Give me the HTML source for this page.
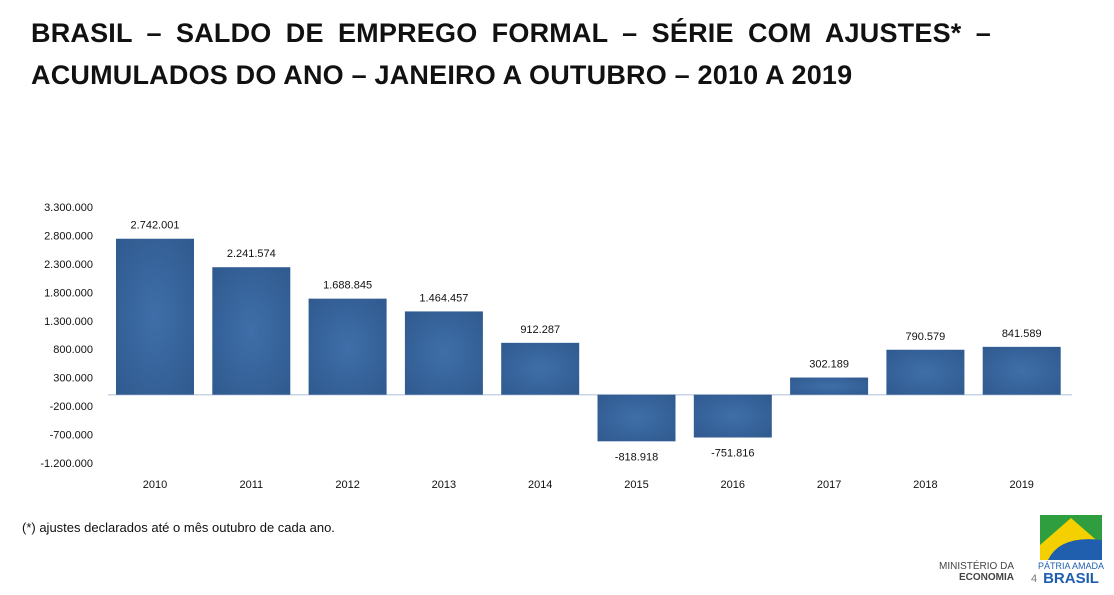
<!DOCTYPE html>
<html><head><meta charset="utf-8"><style>
body{margin:0;width:1114px;height:595px;background:#fff;font-family:"Liberation Sans",sans-serif;overflow:hidden;position:relative}
#title{position:absolute;left:31px;top:12px;width:960px;font-weight:bold;font-size:27px;line-height:42px;color:#111;text-align:justify;text-align-last:left;letter-spacing:0.2px}
#note{position:absolute;left:22px;top:520px;font-size:13px;color:#111}
svg{position:absolute;left:0;top:0}
</style></head><body>
<div id="title">BRASIL – SALDO DE EMPREGO FORMAL – SÉRIE COM AJUSTES* – ACUMULADOS DO ANO – JANEIRO A OUTUBRO – 2010 A 2019</div>
<div id="note">(*) ajustes declarados até o mês outubro de cada ano.</div>
<svg id="chart" width="1114" height="595">
<defs><radialGradient id="g" cx="50%" cy="50%" r="70%"><stop offset="0" stop-color="#3f6ea8"/><stop offset="1" stop-color="#2f5a8f"/></radialGradient></defs>
<g>
<rect x="1040" y="515" width="62" height="45" fill="#2e9e3e"/>
<polygon points="1040,545 1071,518 1102,545 1102,560 1040,560" fill="#f5d000"/>
<path d="M1048,560 Q1060,535 1102,540 L1102,560 Z" fill="#1f5fae"/>
<text x="1071" y="569" font-size="9" fill="#1f5fae" text-anchor="middle">PÁTRIA AMADA</text>
<text x="1071" y="583" font-size="15" fill="#1f5fae" text-anchor="middle" font-weight="bold">BRASIL</text>
<text x="1031" y="582" font-size="11" fill="#777">4</text>
<text x="1014" y="569" font-size="10" fill="#444" text-anchor="end">MINISTÉRIO DA</text>
<text x="1014" y="580" font-size="10" fill="#444" font-weight="bold" text-anchor="end">ECONOMIA</text>
</g>
</svg>
<script>
const categories=["2010","2011","2012","2013","2014","2015","2016","2017","2018","2019"];
const values=[2742001,2241574,1688845,1464457,912287,-818918,-751816,302189,790579,841589];
const valueLabels=["2.742.001","2.241.574","1.688.845","1.464.457","912.287","-818.918","-751.816","302.189","790.579","841.589"];
const ticks=[3300000,2800000,2300000,1800000,1300000,800000,300000,-200000,-700000,-1200000];
const tickLabels=["3.300.000","2.800.000","2.300.000","1.800.000","1.300.000","800.000","300.000","-200.000","-700.000","-1.200.000"];
const NS="http://www.w3.org/2000/svg",svg=document.getElementById('chart');
const y=v=>207+(3300000-v)/4500000*256;
const xc=i=>155+i*96.3;
function mk(t,a,p){const e=document.createElementNS(NS,t);for(const k in a)e.setAttribute(k,a[k]);(p||svg).appendChild(e);return e;}
ticks.forEach((t,i)=>{const e=mk('text',{x:93,y:y(t)+4,'font-size':11,'text-anchor':'end',fill:'#111'});e.textContent=tickLabels[i];

});
const ax=mk('line',{x1:108,x2:1072,y1:y(0),y2:y(0),stroke:'#c8d4e4','stroke-width':1.5});


values.forEach((v,i)=>{const top=Math.min(y(v),y(0)),h=Math.abs(y(v)-y(0));
const r=mk('rect',{x:xc(i)-39,y:top,width:78,height:h,fill:'url(#g)'});


const l=mk('text',{x:xc(i),y:v>=0?y(v)-10:y(v)+19,'font-size':11,'text-anchor':'middle',fill:'#111'});l.textContent=valueLabels[i];


const c=mk('text',{x:xc(i),y:488,'font-size':11,'text-anchor':'middle',fill:'#111'});c.textContent=categories[i];

});
</script>
</body></html>
